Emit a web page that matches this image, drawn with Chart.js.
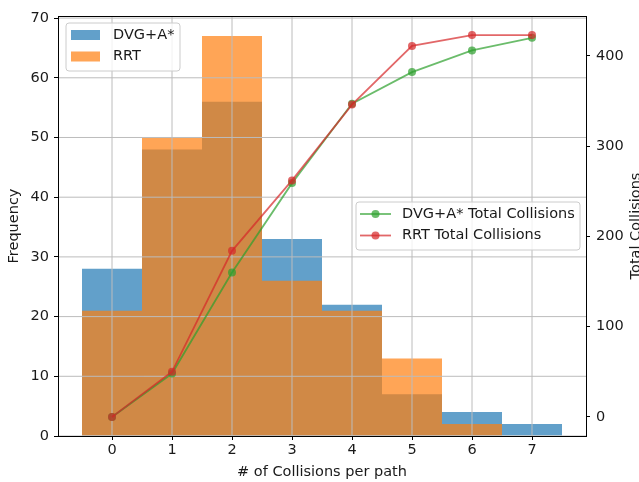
<!DOCTYPE html>
<html>
<head>
<meta charset="utf-8">
<script src="https://cdn.jsdelivr.net/npm/chart.js@4"></script>
<style>
  html, body { margin: 0; padding: 0; background: #fff; }
  canvas { display: block; }
</style>
</head>
<body>
<canvas id="c" width="639" height="482"></canvas>
<script>
// Collisions per path: histogram counts and running totals
const bins = [0, 1, 2, 3, 4, 5, 6, 7];
const dvgCounts = [28, 48, 56, 33, 22, 7, 4, 2];
const rrtCounts = [21, 50, 67, 26, 21, 13, 2, 0];
const dvgTotals = [0, 48, 160, 259, 347, 382, 406, 420];
const rrtTotals = [0, 50, 184, 262, 346, 411, 423, 423];

const xTicks = [0, 1, 2, 3, 4, 5, 6, 7];
const freqTicks = [0, 10, 20, 30, 40, 50, 60, 70];
const totalTicks = [0, 100, 200, 300, 400];

const FONT = "'DejaVu Sans', 'Liberation Sans', sans-serif";
const FSIZE = 14.5;
const TEXT = '#1a1a1a';

const BLUE = 'rgba(31,119,180,0.7)';
const ORANGE = 'rgba(255,127,14,0.7)';
const GREEN = 'rgba(44,160,44,0.7)';
const RED = 'rgba(214,39,40,0.7)';

const pts = (xs, ys) => xs.map((x, i) => ({ x: x, y: ys[i] }));

// Grid sits above the bars but under the lines
const gridPlugin = {
  id: 'gridAboveBars',
  afterDatasetDraw(chart, args) {
    if (args.index !== 1) return;
    const { ctx, chartArea: a, scales } = chart;
    ctx.save();
    ctx.beginPath();
    ctx.rect(a.left, a.top, a.width, a.height);
    ctx.clip();
    ctx.strokeStyle = '#bcbcbc';
    ctx.lineWidth = 1;
    ctx.beginPath();
    xTicks.forEach(v => {
      const px = scales.x.getPixelForValue(v);
      ctx.moveTo(px, a.top);
      ctx.lineTo(px, a.bottom);
    });
    freqTicks.forEach(v => {
      const py = scales.y.getPixelForValue(v);
      ctx.moveTo(a.left, py);
      ctx.lineTo(a.right, py);
    });
    ctx.stroke();
    ctx.restore();
  }
};

function legendBox(ctx, x, y, w, h) {
  const r = 3;
  ctx.beginPath();
  ctx.moveTo(x + r, y);
  ctx.lineTo(x + w - r, y);
  ctx.arcTo(x + w, y, x + w, y + r, r);
  ctx.lineTo(x + w, y + h - r);
  ctx.arcTo(x + w, y + h, x + w - r, y + h, r);
  ctx.lineTo(x + r, y + h);
  ctx.arcTo(x, y + h, x, y + h - r, r);
  ctx.lineTo(x, y + r);
  ctx.arcTo(x, y, x + r, y, r);
  ctx.closePath();
  ctx.fillStyle = 'rgba(255,255,255,0.8)';
  ctx.fill();
  ctx.strokeStyle = '#cccccc';
  ctx.lineWidth = 1;
  ctx.stroke();
}

// Axes frame, right-hand axis title and the two legends
const decorPlugin = {
  id: 'decor',
  afterDatasetsDraw(chart) {
    const { ctx, chartArea: a } = chart;
    ctx.save();
    ctx.strokeStyle = '#000';
    ctx.lineWidth = 1;
    ctx.strokeRect(Math.round(a.left) + 0.5, Math.round(a.top) + 0.5,
                   Math.round(a.width), Math.round(a.height));
    ctx.restore();
  },
  afterDraw(chart) {
    const { ctx, chartArea: a } = chart;
    const ds = chart.data.datasets;
    ctx.save();
    ctx.font = FSIZE + 'px ' + FONT;
    ctx.textBaseline = 'middle';
    ctx.textAlign = 'left';

    // right axis title, reading bottom to top
    ctx.save();
    ctx.translate(636, (a.top + a.bottom) / 2);
    ctx.rotate(-Math.PI / 2);
    ctx.textAlign = 'center';
    ctx.fillStyle = TEXT;
    ctx.fillText('Total Collisions', 0, 0);
    ctx.restore();

    // histogram legend, upper left
    const lx = a.left + 8, ly = a.top + 7;
    legendBox(ctx, lx, ly, 114, 48);
    [0, 1].forEach((k, i) => {
      const cy = ly + 12 + i * 21.5;
      ctx.fillStyle = ds[k].backgroundColor;
      ctx.fillRect(lx + 5, cy - 5, 29, 10);
      ctx.fillStyle = TEXT;
      ctx.fillText(ds[k].label, lx + 47, cy);
    });

    // running-total legend, center right
    const rx = 356, ry = 202;
    legendBox(ctx, rx, ry, 224, 48);
    [2, 3].forEach((k, i) => {
      const cy = ry + 12 + i * 21.5;
      ctx.strokeStyle = ds[k].borderColor;
      ctx.lineWidth = 1.8;
      ctx.beginPath();
      ctx.moveTo(rx + 4, cy);
      ctx.lineTo(rx + 35, cy);
      ctx.stroke();
      ctx.fillStyle = ds[k].pointBackgroundColor;
      ctx.beginPath();
      ctx.arc(rx + 19.5, cy, 4, 0, Math.PI * 2);
      ctx.fill();
      ctx.fillStyle = TEXT;
      ctx.fillText(ds[k].label, rx + 46, cy);
    });
    ctx.restore();
  }
};

const tickFont = { family: FONT, size: FSIZE };
const titleFont = { family: FONT, size: FSIZE, lineHeight: 1.2 };

new Chart(document.getElementById('c'), {
  data: {
    datasets: [
      {
        type: 'bar', label: 'DVG+A*', data: pts(bins, dvgCounts),
        backgroundColor: BLUE, borderWidth: 0, inflateAmount: 0, yAxisID: 'y', order: 4,
        barPercentage: 1, categoryPercentage: 1, grouped: false
      },
      {
        type: 'bar', label: 'RRT', data: pts(bins, rrtCounts),
        backgroundColor: ORANGE, borderWidth: 0, inflateAmount: 0, yAxisID: 'y', order: 3,
        barPercentage: 1, categoryPercentage: 1, grouped: false
      },
      {
        type: 'line', label: 'DVG+A* Total Collisions', data: pts(bins, dvgTotals),
        borderColor: GREEN, backgroundColor: GREEN, pointBackgroundColor: GREEN,
        pointBorderWidth: 0, pointRadius: 4, borderWidth: 1.8, tension: 0,
        yAxisID: 'y2', order: 2
      },
      {
        type: 'line', label: 'RRT Total Collisions', data: pts(bins, rrtTotals),
        borderColor: RED, backgroundColor: RED, pointBackgroundColor: RED,
        pointBorderWidth: 0, pointRadius: 4, borderWidth: 1.8, tension: 0,
        yAxisID: 'y2', order: 1
      }
    ]
  },
  options: {
    responsive: false,
    animation: false,
    events: [],
    layout: { padding: { top: 16, left: 0, right: 0, bottom: 0 } },
    plugins: { legend: { display: false }, tooltip: { enabled: false }, title: { display: false } },
    scales: {
      x: {
        type: 'linear', position: 'bottom', min: -0.9, max: 7.9, offset: false,
        afterBuildTicks: s => { s.ticks = xTicks.map(v => ({ value: v })); },
        afterFit: s => { s.height = 46; },
        ticks: { font: tickFont, color: TEXT, padding: 2, maxRotation: 0, autoSkip: false },
        grid: { offset: false, drawOnChartArea: false, drawTicks: true, tickLength: 4, color: '#000', lineWidth: 1 },
        border: { display: false },
        title: { display: true, text: '# of Collisions per path', color: TEXT,
                 font: titleFont, padding: { top: 0, bottom: 1 } }
      },
      y: {
        type: 'linear', position: 'left', min: 0, max: 70.35,
        afterBuildTicks: s => { s.ticks = freqTicks.map(v => ({ value: v })); },
        afterFit: s => { s.width = 58; },
        ticks: { font: tickFont, color: TEXT, padding: 5 },
        grid: { drawOnChartArea: false, drawTicks: true, tickLength: 4, color: '#000', lineWidth: 1 },
        border: { display: false },
        title: { display: true, text: 'Frequency', color: TEXT,
                 font: titleFont, padding: { top: 6, bottom: 0 } }
      },
      y2: {
        type: 'linear', position: 'right', min: -21.15, max: 444.15,
        afterBuildTicks: s => { s.ticks = totalTicks.map(v => ({ value: v })); },
        afterFit: s => { s.width = 53; },
        ticks: { font: tickFont, color: TEXT, padding: 6 },
        grid: { drawOnChartArea: false, drawTicks: true, tickLength: 4, color: '#000', lineWidth: 1 },
        border: { display: false }
      }
    }
  },
  plugins: [gridPlugin, decorPlugin]
});
</script>
</body>
</html>
